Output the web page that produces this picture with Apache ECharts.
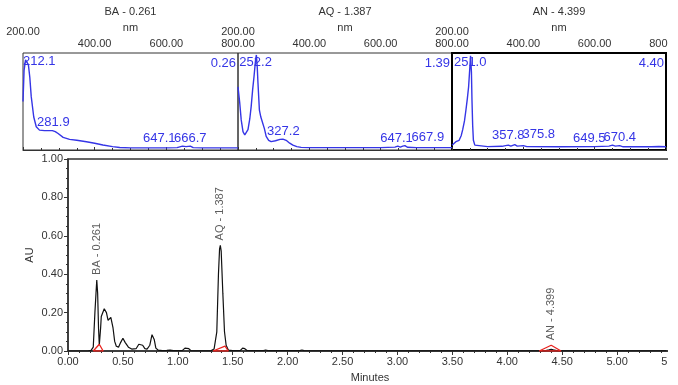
<!DOCTYPE html>
<html>
<head>
<meta charset="utf-8">
<script src="https://cdn.jsdelivr.net/npm/echarts/dist/echarts.min.js"></script>
<style>
  html, body { margin: 0; padding: 0; background: #fff; }
  #chart { width: 678px; height: 385px; }
</style>
</head>
<body>
<div id="chart"></div>
<script>
// peaks found in the chromatogram
const peakNames = ['BA', 'AQ', 'AN'];
const peakTimes = [0.261, 1.387, 4.399];
const peakHeights = [0.37, 0.55, 0.03];

// chromatogram trace (minutes, AU)
const chromTime = [0.00, 0.18, 0.21, 0.23, 0.245, 0.255, 0.262, 0.27, 0.278, 0.285, 0.29, 0.297, 0.303, 0.31, 0.318, 0.33, 0.338, 0.35, 0.365, 0.375, 0.39, 0.40, 0.41, 0.425, 0.44, 0.46, 0.48, 0.50, 0.52, 0.55, 0.58, 0.62, 0.645, 0.66, 0.68, 0.70, 0.72, 0.745, 0.765, 0.775, 0.785, 0.80, 0.82, 0.86, 0.90, 0.93, 0.96, 1.04, 1.065, 1.08, 1.10, 1.12, 1.30, 1.33, 1.355, 1.37, 1.38, 1.387, 1.395, 1.41, 1.425, 1.44, 1.46, 1.50, 1.57, 1.59, 1.61, 1.63, 1.78, 1.80, 1.82, 2.11, 2.13, 2.15, 2.50, 4.34, 4.38, 4.40, 4.42, 4.46, 5.45];
const chromAU = [0.000, 0.000, 0.003, 0.02, 0.20, 0.30, 0.37, 0.30, 0.12, 0.03, 0.02, 0.12, 0.18, 0.17, 0.19, 0.22, 0.23, 0.20, 0.16, 0.165, 0.175, 0.17, 0.12, 0.05, 0.025, 0.02, 0.045, 0.066, 0.045, 0.02, 0.01, 0.012, 0.035, 0.043, 0.03, 0.012, 0.01, 0.03, 0.085, 0.09, 0.06, 0.015, 0.005, 0.002, 0.003, 0.005, 0.002, 0.002, 0.015, 0.022, 0.012, 0.002, 0.001, 0.01, 0.10, 0.40, 0.53, 0.55, 0.52, 0.30, 0.10, 0.03, 0.005, 0.002, 0.003, 0.015, 0.012, 0.003, 0.002, 0.005, 0.002, 0.002, 0.005, 0.002, 0.001, 0.001, 0.006, 0.009, 0.006, 0.001, 0.001];

// integration marks (red)
const baseBA = [[0.23, 0.0], [0.285, 0.035], [0.32, 0.0], [0.23, 0.0]];
const baseAQ = [[1.32, 0.0], [1.43, 0.025], [1.46, 0.0], [1.32, 0.0]];
const baseAN = [[4.29, 0.0], [4.40, 0.03], [4.49, 0.0], [4.29, 0.0]];

// UV spectra (nm, relative absorbance)
const spectrumBA = [[200, 0.50], [203, 0.82], [207, 0.93], [212, 0.95], [215, 0.88], [219, 0.75], [223, 0.55], [230, 0.34], [237, 0.24], [246, 0.205], [260, 0.20], [282, 0.20], [290, 0.19], [298, 0.17], [312, 0.13], [330, 0.11], [350, 0.10], [377, 0.085], [400, 0.07], [423, 0.052], [450, 0.035], [470, 0.026], [500, 0.022], [600, 0.022], [630, 0.025], [645, 0.04], [655, 0.035], [667, 0.04], [675, 0.025], [700, 0.022], [800, 0.022]];
const spectrumAQ = [[200, 0.65], [205, 0.48], [209, 0.31], [214, 0.19], [219, 0.155], [223, 0.17], [228, 0.21], [233, 0.32], [237, 0.45], [241, 0.62], [245, 0.76], [249, 0.92], [251.5, 0.98], [254, 0.85], [256, 0.69], [260, 0.41], [264, 0.34], [269, 0.32], [274, 0.22], [279, 0.14], [286, 0.10], [293, 0.086], [305, 0.095], [318, 0.11], [326, 0.112], [335, 0.10], [345, 0.07], [354, 0.05], [365, 0.035], [377, 0.027], [400, 0.025], [600, 0.024], [640, 0.03], [648, 0.04], [655, 0.03], [662, 0.04], [668, 0.045], [675, 0.028], [700, 0.024], [800, 0.024]];
const spectrumAN = [[200, 0.05], [205, 0.07], [211, 0.086], [220, 0.10], [226, 0.15], [230, 0.21], [235, 0.30], [239, 0.41], [243, 0.53], [246.5, 0.65], [250, 0.85], [252, 0.97], [253, 0.98], [254.5, 0.80], [256, 0.515], [258, 0.25], [260, 0.10], [264, 0.05], [267, 0.04], [300, 0.035], [340, 0.038], [350, 0.045], [358, 0.05], [365, 0.04], [376, 0.055], [383, 0.04], [400, 0.045], [410, 0.035], [500, 0.033], [600, 0.035], [640, 0.04], [650, 0.05], [658, 0.04], [670, 0.045], [680, 0.033], [760, 0.033], [780, 0.036], [800, 0.033]];

// labelled spectral maxima
const maximaBA = [[212.1, 0.95], [281.9, 0.20], [647.1, 0.04], [666.7, 0.04]];
const maximaAQ = [[252.2, 0.98], [327.2, 0.112], [647.1, 0.04], [667.9, 0.045]];
const maximaAN = [[251.0, 0.98], [357.8, 0.05], [375.8, 0.055], [649.5, 0.05], [670.4, 0.045]];

// label offsets in px (the software shifts colliding labels)
const offsetsBA = [[12, 4], [1, -8], [-24, -8], [0, -8]];
const offsetsAQ = [[-1, 7], [0, -8], [-1, -8], [23, -8]];
const offsetsAN = [[0, 7], [0, -10], [24, -10], [-23, -7], [0, -8]];

const spectra = [spectrumBA, spectrumAQ, spectrumAN];
const maxima = [maximaBA, maximaAQ, maximaAN];
const offsets = [offsetsBA, offsetsAQ, offsetsAN];

const panelLeft = [23, 238, 452];
const panelWidth = [215, 214, 214];
const panelTop = 53;
const panelHeight = 97;

const BLUE = '#3535e6';
const INK = '#333';
const FONT = 'Liberation Sans, Arial, sans-serif';

const chart = echarts.init(document.getElementById('chart'));

let grids = [];
let xAxes = [];
let yAxes = [];
let series = [];
let graphics = [];

for (let i = 0; i < 3; i++) {
  grids.push({
    left: panelLeft[i], top: panelTop, width: panelWidth[i], height: panelHeight,
    show: true, borderColor: i === 2 ? '#000' : INK, borderWidth: i === 2 ? 2 : 1,
    backgroundColor: 'transparent', outerBoundsMode: 'none'
  });
  xAxes.push({
    gridIndex: i, type: 'value', position: 'top', min: 200, max: 800, interval: 200,
    name: 'nm', nameLocation: 'middle', nameGap: 20, nameMoveOverlap: false,
    nameTextStyle: { fontSize: 11, color: INK, fontFamily: FONT },
    axisLine: { show: true, lineStyle: { color: INK, width: 1 } },
    axisTick: { show: true, length: 3, lineStyle: { color: INK } },
    minorTick: { show: true, splitNumber: 4, length: 2, lineStyle: { color: INK } },
    splitLine: { show: false },
    axisLabel: {
      margin: 4, fontSize: 11, color: INK, fontFamily: FONT,
      showMinLabel: true, showMaxLabel: true,
      formatter: v => v === 200 ? '{hi|' + v.toFixed(2) + '}' : v.toFixed(2),
      rich: { hi: { fontSize: 11, color: INK, fontFamily: FONT, padding: [0, 0, 12, 0] } }
    }
  });
  yAxes.push({ gridIndex: i, type: 'value', min: 0, max: 1, show: false });
  series.push({
    type: 'line', xAxisIndex: i, yAxisIndex: i, data: spectra[i],
    symbol: 'none', lineStyle: { color: BLUE, width: 1.4 }, silent: true,
    markPoint: {
      symbol: 'circle', symbolSize: 0, silent: true,
      label: {
        show: true, position: 'inside', color: BLUE, fontSize: 13, fontFamily: FONT,
        formatter: p => p.value.toFixed(1)
      },
      data: maxima[i].map((m, k) => ({
        coord: m, value: m[0], label: { offset: offsets[i][k] }
      }))
    }
  });
  // panel title and retention time
  graphics.push({
    type: 'text', x: panelLeft[i] + panelWidth[i] / 2, y: 12,
    style: {
      text: peakNames[i] + ' - ' + peakTimes[i].toFixed(3), fill: INK,
      font: '11px ' + FONT, align: 'center', verticalAlign: 'middle',
      textAlign: 'center', textVerticalAlign: 'middle'
    }
  });
  graphics.push({
    type: 'text', x: panelLeft[i] + panelWidth[i] - 2, y: 63,
    style: {
      text: peakTimes[i].toFixed(2), fill: BLUE,
      font: '13px ' + FONT, align: 'right', verticalAlign: 'middle',
      textAlign: 'right', textVerticalAlign: 'middle'
    }
  });
}

// chromatogram
grids.push({
  left: 68, top: 159, right: 6, bottom: 34,
  show: true, borderColor: INK, borderWidth: 1.5, backgroundColor: 'transparent',
  outerBoundsMode: 'none'
});
xAxes.push({
  gridIndex: 3, type: 'value', min: 0, max: 5.5, interval: 0.5,
  name: 'Minutes', nameLocation: 'middle', nameGap: 21, nameMoveOverlap: false,
  nameTextStyle: { fontSize: 11, color: INK, fontFamily: FONT },
  axisLine: { show: true, lineStyle: { color: INK, width: 1.5 } },
  axisTick: { show: true, length: 4, lineStyle: { color: INK } },
  minorTick: { show: true, splitNumber: 5, length: 2, lineStyle: { color: INK } },
  splitLine: { show: false },
  axisLabel: {
    margin: 5, fontSize: 11, color: INK, fontFamily: FONT,
    showMinLabel: true, showMaxLabel: true, formatter: v => v.toFixed(2)
  }
});
yAxes.push({
  gridIndex: 3, type: 'value', min: 0, max: 1, interval: 0.2,
  name: 'AU', nameLocation: 'middle', nameGap: 33, nameMoveOverlap: false,
  nameTextStyle: { fontSize: 11, color: INK, fontFamily: FONT },
  axisLine: { show: true, lineStyle: { color: INK, width: 1.5 } },
  axisTick: { show: true, length: 4, lineStyle: { color: INK } },
  minorTick: { show: true, splitNumber: 4, length: 2, lineStyle: { color: INK } },
  splitLine: { show: false },
  axisLabel: {
    margin: 5, fontSize: 11, color: INK, fontFamily: FONT,
    showMinLabel: true, showMaxLabel: true, formatter: v => v.toFixed(2)
  }
});

series.push({
  type: 'line', xAxisIndex: 3, yAxisIndex: 3,
  data: chromTime.map((t, k) => [t, chromAU[k]]),
  symbol: 'none', lineStyle: { color: '#111', width: 1.2 }, silent: true
});
[baseBA, baseAQ, baseAN].forEach(b => {
  series.push({
    type: 'line', xAxisIndex: 3, yAxisIndex: 3, data: b,
    symbol: 'none', lineStyle: { color: '#e8231f', width: 1.3 }, silent: true, z: 3
  });
});
series.push({
  type: 'scatter', xAxisIndex: 3, yAxisIndex: 3, symbolSize: 0, silent: true,
  data: peakTimes.map((t, k) => ({ value: [t, peakHeights[k]], name: peakNames[k] })),
  label: {
    show: true, position: 'top', distance: 5, rotate: 90,
    align: 'left', verticalAlign: 'middle',
    fontSize: 11, color: INK, fontFamily: FONT,
    formatter: p => p.name + ' - ' + p.value[0].toFixed(3)
  }
});

// the original picture is cut off at the right edge
graphics.push({
  type: 'rect', shape: { x: 668, y: 0, width: 10, height: 385 },
  style: { fill: '#fff' }, z: 100, silent: true
});

chart.setOption({
  animation: false,
  backgroundColor: '#fff',
  textStyle: { fontFamily: FONT },
  grid: grids,
  xAxis: xAxes,
  yAxis: yAxes,
  series: series,
  graphic: { elements: graphics }
});
</script>
</body>
</html>
